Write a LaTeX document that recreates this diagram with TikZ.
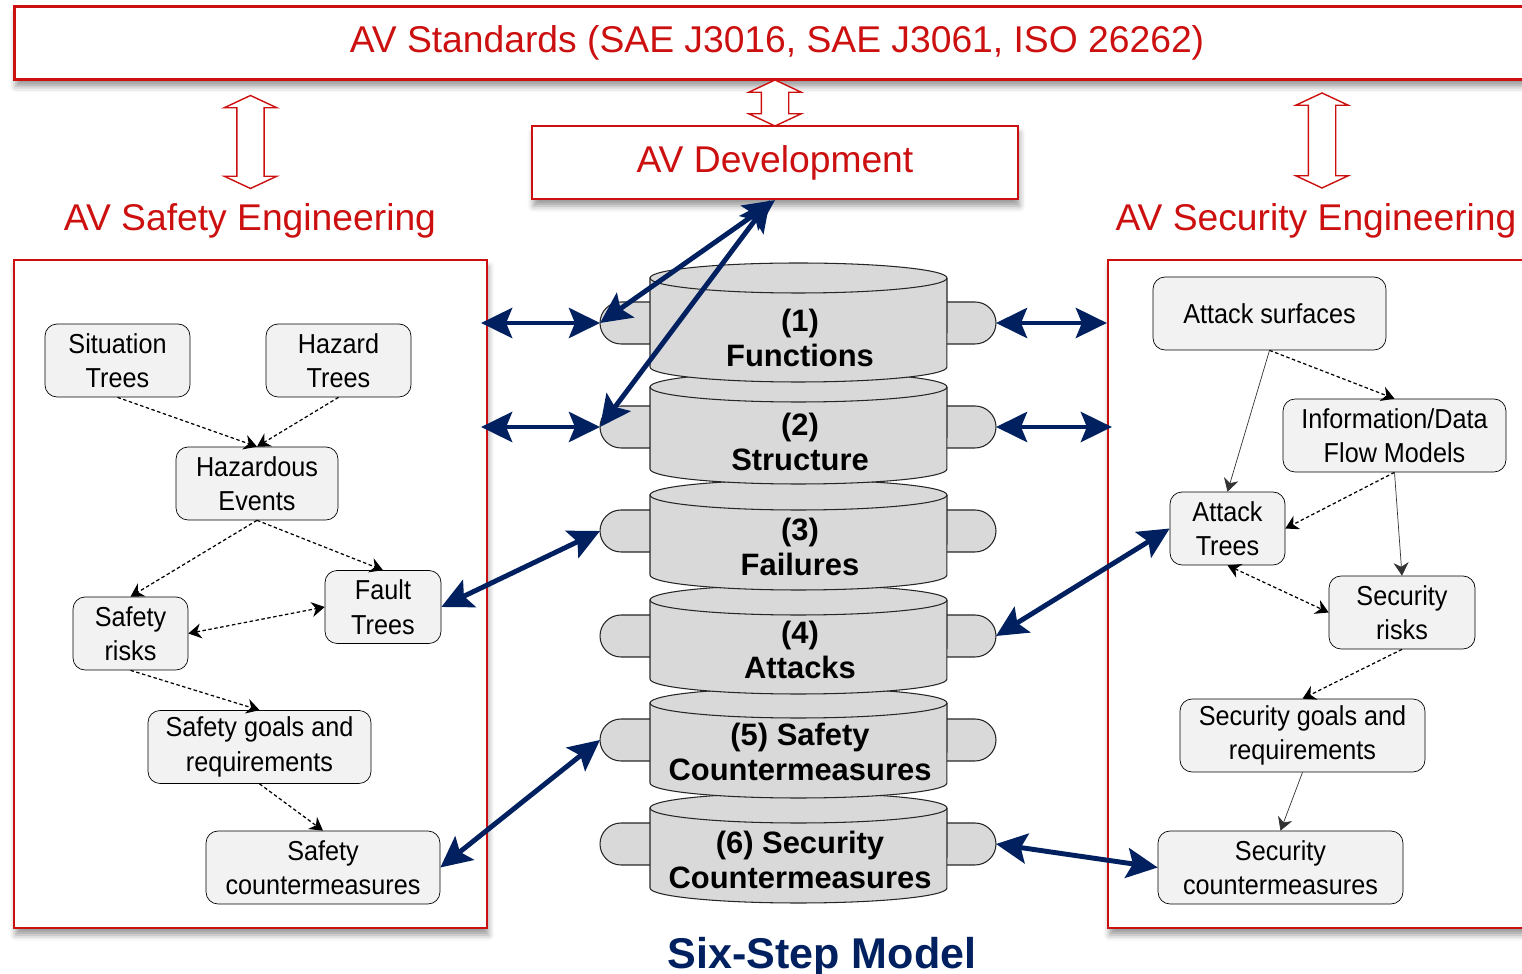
\documentclass[tikz,border=0pt]{standalone}
\usepackage{fontspec}
\setmainfont{Liberation Sans}
\newfontfamily\boxfont[FakeStretch=0.92]{Liberation Sans}
\usetikzlibrary{arrows.meta,shapes.arrows,shadows.blur}
\definecolor{avred}{RGB}{204,16,16}
\definecolor{avblue}{RGB}{0,32,96}
\definecolor{diskgray}{RGB}{217,217,217}
\definecolor{boxgray}{RGB}{242,242,242}

\begin{document}
\begin{tikzpicture}[x=0.02cm,y=0.02cm]
\tikzset{>={Stealth[length=0.26cm,width=0.3cm]}}
\tikzset{redframe/.style={draw=avred,line width=1.3pt,fill=white,blur shadow={shadow xshift=0.03cm,shadow yshift=-0.14cm,shadow blur radius=0.12cm}}}
\tikzset{redtext/.style={text=avred,font=\fontsize{21.2}{25}\selectfont}}
\tikzset{hollow/.style={draw=avred,line width=0.8pt,fill=white,shape=double arrow,rotate=90,double arrow tip angle=130,inner xsep=0pt,inner ysep=0.26cm,minimum width=1.02cm,double arrow head extend=0.25cm}}
\tikzset{item/.style={draw,rounded corners=0.24cm,fill=boxgray,minimum height=1.46cm,inner sep=0pt,align=center,font=\boxfont\fontsize{15.6}{19.6}\selectfont}}
\tikzset{dep/.style={->,dash pattern=on 0.07cm off 0.05cm,line width=0.7pt}}
\tikzset{flow/.style={->,line width=0.4pt,draw=black!80}}
\tikzset{link/.style={{Stealth[length=0.62cm,width=0.6cm,inset=0.12cm]}-{Stealth[length=0.62cm,width=0.6cm,inset=0.12cm]},draw=avblue,line width=2.8pt}}
\tikzset{disk/.style={draw=black!85,line width=0.6pt,fill=diskgray}}
\tikzset{steptext/.style={align=center,font=\bfseries\fontsize{17.6}{19.8}\selectfont}}
\useasboundingbox (0,0) rectangle (1522,974);

% standards and development
\node[redframe,line width=1.6pt,minimum width=30.52cm,minimum height=1.46cm,redtext] (std) at (777,931) {AV Standards (SAE J3016, SAE J3061, ISO 26262)};
\node[hollow,minimum height=1.86cm] (hl) at (250.5,832) {};
\node[hollow,minimum height=0.92cm] (hm) at (775,871) {};
\node[hollow,minimum height=1.9cm] (hr) at (1322,833.5) {};
\node[redframe,minimum width=9.72cm,minimum height=1.46cm,redtext] (dev) at (775,811.5) {AV Development};
\node[redtext] (safe) at (250,753) {AV Safety Engineering};
\node[redtext] (secu) at (1316,753) {AV Security Engineering};

% panels
\node[redframe,minimum width=9.46cm,minimum height=13.36cm] (lp) at (250.5,380) {};
\node[redframe,minimum width=8.64cm,minimum height=13.36cm] (rp) at (1324,380) {};

% safety side
\node[item,minimum width=2.9cm] (sit) at (117.5,613.5) {Situation\\Trees};
\node[item,minimum width=2.9cm] (haz) at (338.5,613.5) {Hazard\\Trees};
\node[item,minimum width=3.24cm] (hev) at (257,490.5) {Hazardous\\Events};
\node[item,minimum width=2.3cm] (srisk) at (130.5,340.5) {Safety\\risks};
\node[item,minimum width=2.32cm] (fault) at (383,367) {Fault\\Trees};
\node[item,minimum width=4.46cm] (sgoal) at (259.5,227) {Safety goals and\\requirements};
\node[item,minimum width=4.68cm] (scm) at (323,106.5) {Safety\\countermeasures};

% security side
\node[item,minimum width=4.66cm] (asurf) at (1269.5,660.5) {Attack surfaces};
\node[item,minimum width=4.46cm] (ifm) at (1394.5,538.5) {Information/Data\\Flow Models};
\node[item,minimum width=2.3cm] (atree) at (1227.5,445.5) {Attack\\Trees};
\node[item,minimum width=2.92cm] (secrisk) at (1402,361.5) {Security\\risks};
\node[item,minimum width=4.9cm] (secgoal) at (1302.5,238.5) {Security goals and\\requirements};
\node[item,minimum width=4.9cm] (seccm) at (1280.5,106.5) {Security\\countermeasures};

\draw[dep] (sit.south) -- (hev.north);
\draw[dep] (haz.south) -- (hev.north);
\draw[dep] (hev.south) -- (srisk.north);
\draw[dep] (hev.south) -- (fault.north);
\draw[dep,<->] (srisk.east) -- (fault.west);
\draw[dep] (srisk.south) -- (sgoal.north);
\draw[dep] (sgoal.south) -- (scm.north);

\draw[dep] (asurf.south) -- (ifm.north);
\draw[flow] (asurf.south) -- (atree.north);
\draw[dep] (ifm.south) -- (atree.east);
\draw[flow] (ifm.south) -- (secrisk.north);
\draw[dep,<->] (atree.south) -- (secrisk.west);
\draw[dep] (secrisk.south) -- (secgoal.north);
\draw[flow] (secgoal.south) -- (seccm.north);

% six steps, bottom one first
\foreach \n/\t/\b/\c/\m/\txt in {6/181/71/130/114/{(6) Security\\Countermeasures},
  5/286/176/234/222/{(5) Safety\\Countermeasures},
  4/389/280/338/324/{(4)\\Attacks},
  3/494/384/443/427/{(3)\\Failures},
  2/602/490/547/532/{(2)\\Structure},
  1/711/592/651/636/{(1)\\Functions}}
{
  \draw[disk] (660,\c+21) -- (621,\c+21) arc (90:270:0.42cm) -- (660,\c-21);
  \draw[disk] (937,\c+21) -- (975,\c+21) arc (90:-90:0.42cm) -- (937,\c-21);
  \draw[disk] (650,\t-15) -- (650,\b+15) arc (180:360:2.97cm and 0.3cm) -- (947,\t-15) arc (0:180:2.97cm and 0.3cm) -- cycle;
  \draw[disk,fill=none] (650,\t-15) arc (180:360:2.97cm and 0.3cm);
  \node[steptext] (s\n) at (800,\m) {\txt};
  \coordinate (tl\n) at (600,\c);
  \coordinate (tr\n) at (996,\c);
}

\draw[link] ([xshift=-0.14cm]lp.east |- tl1) -- (tl1);
\draw[link] ([xshift=-0.14cm]lp.east |- tl2) -- (tl2);
\draw[link] (tr1) -- (rp.west |- tr1);
\draw[link] (tr2) -- ([xshift=0.1cm]rp.west |- tr2);
\draw[link] (dev.south) -- (tl1);
\draw[link] ([xshift=-0.1cm]dev.south) -- (tl2);
\draw[link] (fault.east) -- (tl3);
\draw[link] (scm.east) -- (tl5);
\draw[link] (atree.west) -- (tr4);
\draw[link] (tr6) -- (seccm.west);

\node[text=avblue,font=\bfseries\fontsize{24.5}{29}\selectfont,anchor=base] (title) at (822,6) {Six-Step Model};
\end{tikzpicture}
\end{document}
